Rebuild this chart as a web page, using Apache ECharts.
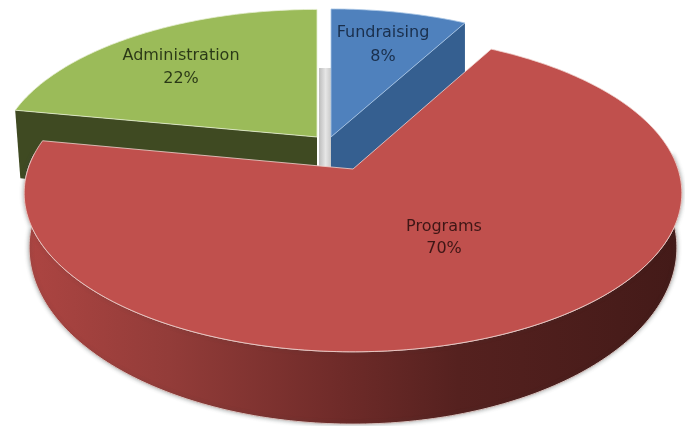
<!DOCTYPE html>
<html><head><meta charset="utf-8">
<style>html,body{margin:0;padding:0;background:#fff}#c{width:685px;height:426px}</style>
<script src="https://cdn.jsdelivr.net/npm/echarts@6/dist/echarts.min.js"></script>
</head><body><div id="c"></div>
<script>
// Data, clockwise from 12 o'clock
const categories = ['Fundraising', 'Programs', 'Administration'];
const values = [8, 70, 22];

// Drawing layout (perspective disc per exploded slice)
const layout = {
  Fundraising:    {x0:331, y0:137, a:315, b:147.5, k:.152, depth:70, shrink:1, top:'#4f81bd', wall:'#355f90', edge:'#a9c6e6', lx:383, ly:[33,57], ink:'#14263f'},
  Programs:       {x0:353, y0:169, a:325, b:155,   k:.152, depth:52, shrink:.985, top:'#c0504d', edge:'#f0d3cf', lx:444, ly:[227,249], ink:'#30100f'},
  Administration: {x0:317, y0:137, a:316, b:147,   k:.152, depth:72, shrink:.983, top:'#9bbb59', wall:'#3f4a22', edge:'#e6efd2', lx:181, ly:[56,79], ink:'#1e2a10'}
};
const drawOrder = [2, 0, 1];
const fontFamily = '"DejaVu Sans",sans-serif';

const total = values.reduce((s, v) => s + v, 0);
const starts = []; let acc = 0;
values.forEach(v => { starts.push(acc / total * 2 * Math.PI); acc += v; });

function rim(L, t, low) {
  const u = Math.sin(t), v = Math.cos(t), w = 1 + L.k * v;
  const x = L.x0 + L.a * u / w, y = L.y0 - L.b * v / w;
  if (!low) return [x, y];
  return [L.x0 + (x - L.x0) * L.shrink, y + L.depth / (w * w)];
}
function arc(L, t0, t1, low) {
  const n = Math.max(16, Math.ceil(Math.abs(t1 - t0) * 60)), pts = [];
  for (let i = 0; i <= n; i++) pts.push(rim(L, t0 + (t1 - t0) * i / n, low));
  return pts;
}

function renderItem(params, api) {
  const i = api.value(0), L = layout[categories[i]];
  const t0 = starts[i], t1 = t0 + api.value(1) / total * 2 * Math.PI;
  const apex = [L.x0, L.y0];
  const outer = arc(L, t0, t1, false);
  const children = [];
  if (categories[i] === 'Programs') {
    // only the near side of the rim faces the viewer
    const n0 = Math.max(t0, Math.PI * .47), n1 = Math.min(t1, Math.PI * 1.53);
    children.push({type:'polygon', shape:{points: arc(L, n0, n1, false).concat(arc(L, n1, n0, true))},
      style:{fill:new echarts.graphic.LinearGradient(0,0,1,0,[
        {offset:0,color:'#ad4542'},{offset:.22,color:'#933c39'},{offset:.48,color:'#6f2b29'},
        {offset:.66,color:'#55211f'},{offset:1,color:'#431a18'}]),
        stroke:'#d9c4c0', lineWidth:1, shadowColor:'rgba(60,70,70,.45)', shadowBlur:4}});
  } else {
    // flat cut face of the slice, seen from the front, partly hidden by the big slice
    const trailing = categories[i] === 'Fundraising' ? t1 : t0;
    const e = rim(L, trailing, false), eLow = rim(L, trailing, true);
    const aLow = [L.x0, L.y0 + L.depth];
    children.push({type:'polygon', shape:{points:[apex, e, eLow, aLow]}, style:{fill:L.wall}});
  }
  children.push({type:'polygon', shape:{points:[apex].concat(outer)},
    style:{fill:L.top, stroke:L.edge, lineWidth:.8, lineJoin:'round'}});
  const pct = Math.round(api.value(1) / total * 100) + '%';
  [categories[i], pct].forEach((s, j) => children.push({type:'text', z2:5,
    style:{x:L.lx, y:L.ly[j], text:s, fill:L.ink, font:'16px '+fontFamily, align:'center', verticalAlign:'middle', opacity:.9}}));
  return {type:'group', children};
}

function renderGap(params, api) {
  return {type:'rect', shape:{x:319, y:68, width:12, height:100},
    style:{fill:new echarts.graphic.LinearGradient(0,0,1,0,[
      {offset:0,color:'#bdbdbd'},{offset:.55,color:'#e6e6e6'},{offset:1,color:'#c9c9c9'}])}};
}

const chart = echarts.init(document.getElementById('c'), null, {renderer:'canvas'});
chart.setOption({
  animation:false,
  backgroundColor:'#fff',
  series:[
    {type:'custom', coordinateSystem:'none', silent:true, renderItem:renderGap, data:[[0]], z:1},
    {type:'custom', coordinateSystem:'none', silent:true, renderItem, z:2,
     data:drawOrder.map(i => [i, values[i]])}
  ]
});
</script></body></html>
